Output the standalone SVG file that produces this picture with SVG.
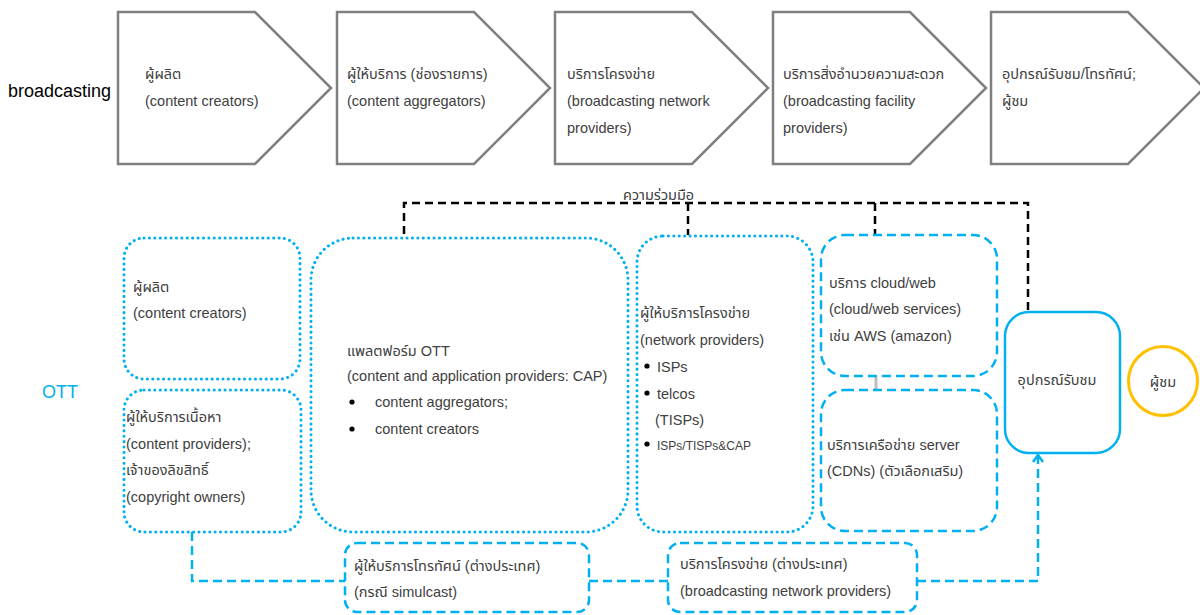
<svg xmlns="http://www.w3.org/2000/svg" width="1200" height="615" viewBox="0 0 1200 615">
<defs>
<marker id="chev" viewBox="0 0 12 12" refX="10" refY="6" markerWidth="12" markerHeight="12" markerUnits="userSpaceOnUse" orient="auto">
<path d="M3,1 L10,6 L3,11" fill="none" stroke="#00B0F0" stroke-width="2.5"/>
</marker>
</defs>
<style>
text{font-family:"Liberation Sans","Noto Sans Thai","Noto Sans",sans-serif;font-size:14.5px;fill:#404040}
.pent{fill:#fff;stroke:#7f7f7f;stroke-width:2.5}
.dot{fill:#fff;stroke:#00B0F0;stroke-width:3;stroke-dasharray:0.1 5.3;stroke-linecap:round}
.dash{fill:#fff;stroke:#00B0F0;stroke-width:2.5;stroke-dasharray:9 5}
.solid{fill:#fff;stroke:#00B0F0;stroke-width:2.5}
.bk{fill:none;stroke:#000;stroke-width:2.5;stroke-dasharray:8 5}
.bl{fill:none;stroke:#00B0F0;stroke-width:2.5;stroke-dasharray:9 5}
.big{font-size:18px;fill:#000}
.sm{font-size:12px}
</style>
<text class="big" x="8" y="97">broadcasting</text>
<text class="big" x="42" y="398" style="fill:#00B0F0">OTT</text>

<g id="b1"><path class="pent" d="M118,12 H255 L331,88 L255,164 H118 Z"/>
<text x="145" y="79">ผู้ผลิต</text><text x="145" y="106">(content creators)</text></g>
<g id="b2"><path class="pent" d="M337,12 H474 L550,88 L474,164 H337 Z"/>
<text x="347" y="79">ผู้ให้บริการ (ช่องรายการ)</text><text x="347" y="106">(content aggregators)</text></g>
<g id="b3"><path class="pent" d="M555,12 H692 L768,88 L692,164 H555 Z"/>
<text x="567" y="79">บริการโครงข่าย</text><text x="567" y="106">(broadcasting network</text><text x="567" y="133">providers)</text></g>
<g id="b4"><path class="pent" d="M773,12 H910 L986,88 L910,164 H773 Z"/>
<text x="783" y="79">บริการสิ่งอำนวยความสะดวก</text><text x="783" y="106">(broadcasting facility</text><text x="783" y="133">providers)</text></g>
<g id="b5"><path class="pent" d="M991,12 H1128 L1204,88 L1128,164 H991 Z"/>
<text x="1002" y="79">อุปกรณ์รับชม/โทรทัศน์;</text><text x="1002" y="106">ผู้ชม</text></g>

<g id="connectors">
<path class="bk" d="M404,234 V203 H1028 V312"/>
<path class="bk" d="M688,203 V235"/>
<path class="bk" d="M875,203 V234"/>
<path d="M876,377 V389" stroke="#bdbdbd" stroke-width="3"/>
<path class="bl" d="M192,532 V581 H345"/>
<path class="bl" d="M589,581 H668"/>
<path class="bl" d="M917,581 H1038 V455" marker-end="url(#chev)"/>
</g>
<text x="623" y="200">ความร่วมมือ</text>

<g id="a"><rect class="dot" x="124" y="238" width="176" height="141" rx="20"/>
<text x="133" y="292">ผู้ผลิต</text><text x="133" y="318">(content creators)</text></g>
<g id="b"><rect class="dot" x="124" y="390" width="177" height="142" rx="20"/>
<text x="126" y="422">ผู้ให้บริการเนื้อหา</text><text x="126" y="449">(content providers);</text><text x="126" y="475">เจ้าของลิขสิทธิ์</text><text x="126" y="502">(copyright owners)</text></g>
<g id="c"><rect class="dot" x="311" y="238" width="317" height="294" rx="42"/>
<text x="347" y="356">แพลตฟอร์ม OTT</text><text x="347" y="381">(content and application providers: CAP)</text>
<circle cx="352" cy="402" r="2.6" fill="#000"/><text x="375" y="407">content aggregators;</text>
<circle cx="352" cy="429" r="2.6" fill="#000"/><text x="375" y="434">content creators</text></g>
<g id="d"><rect class="dot" x="637" y="236" width="176" height="296" rx="26"/>
<text x="640" y="318">ผู้ให้บริการโครงข่าย</text><text x="640" y="345">(network providers)</text>
<circle cx="647" cy="366" r="2.6" fill="#000"/><text x="657" y="372">ISPs</text>
<circle cx="647" cy="393" r="2.6" fill="#000"/><text x="657" y="399">telcos</text>
<text x="655" y="425">(TISPs)</text>
<circle cx="647" cy="444" r="2.6" fill="#000"/><text class="sm" x="657" y="450">ISPs/TISPs&amp;CAP</text></g>
<g id="e"><rect class="dash" x="821" y="235" width="176" height="141" rx="24"/>
<text x="829" y="288">บริการ cloud/web</text><text x="829" y="314">(cloud/web services)</text><text x="829" y="341">เช่น AWS (amazon)</text></g>
<g id="f"><rect class="dash" x="821" y="390" width="176" height="141" rx="24"/>
<text x="827" y="450">บริการเครือข่าย server</text><text x="827" y="476">(CDNs) (ตัวเลือกเสริม)</text></g>
<g id="g"><rect class="solid" x="1005" y="312" width="115" height="141" rx="24"/>
<text x="1057" y="385" text-anchor="middle">อุปกรณ์รับชม</text></g>
<g id="h"><circle cx="1163" cy="381" r="34.5" fill="#fff" stroke="#FFC000" stroke-width="3"/>
<text x="1163" y="387" text-anchor="middle">ผู้ชม</text></g>
<g id="i"><rect class="dash" x="345" y="543" width="244" height="69" rx="12"/>
<text x="354" y="571">ผู้ให้บริการโทรทัศน์ (ต่างประเทศ)</text><text x="354" y="597">(กรณี simulcast)</text></g>
<g id="j"><rect class="dash" x="668" y="543" width="249" height="69" rx="12"/>
<text x="680" y="569">บริการโครงข่าย (ต่างประเทศ)</text><text x="680" y="596">(broadcasting network providers)</text></g>
</svg>
